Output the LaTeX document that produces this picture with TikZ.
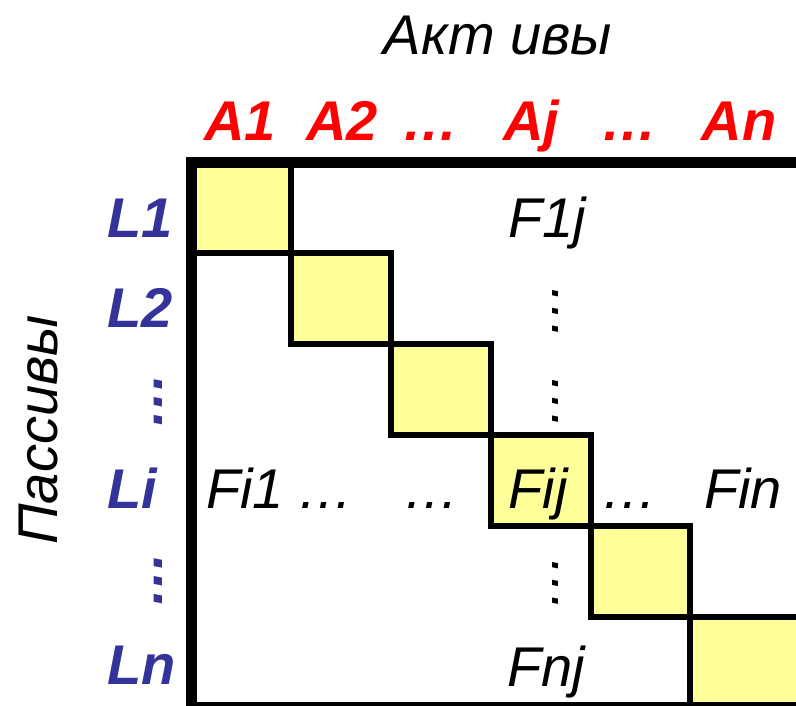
\documentclass[tikz,border=0pt]{standalone}
\usepackage{fontspec}
\setmainfont{Liberation Sans}
\definecolor{cellyellow}{HTML}{FFFF99}
\definecolor{actred}{HTML}{FF0000}
\definecolor{passblue}{HTML}{333399}
\begin{document}
\begin{tikzpicture}[x=1pt,y=-1pt,
  txt/.style={font=\fontsize{56}{60}\selectfont\itshape, inner sep=0pt, anchor=base},
  act/.style={txt, font=\fontsize{56}{60}\selectfont\bfseries\itshape, text=actred},
  pas/.style={txt, font=\fontsize{56}{60}\selectfont\bfseries\itshape, text=passblue},
  vdots/.style={rotate=90, anchor=center},
  cell/.style={fill=cellyellow, draw=black, line width=6pt},
  frame/.style={draw=black, line width=11pt}]
\useasboundingbox (0,0) rectangle (796,706);
\clip (0,0) rectangle (796,706);
% diagonal cells
\foreach \k in {0,...,4}{
  \draw[cell] ({191.5+99.75*\k},{162.5+90.8*\k}) rectangle ++(99.75,90.8);
}
\draw[cell] (690.25,616.5) rectangle (850,760);
% outer frame
\draw[frame] (191.5,162.5) rectangle (850,707.3);
% headings
\node[txt] (aktivy) at (498,55) {Акт ивы};
\node[txt, rotate=90] (passivy) at (57,430) {Пассивы};
% column labels
\node[act] (a1) at (240,141) {A1};
\node[act] (a2) at (342,141) {A2};
\node[act] (ad1) at (430,141) {…};
\node[act] (aj) at (531,141) {Aj};
\node[act] (ad2) at (629,141) {…};
\node[act] (an) at (739,141) {An};
% row labels
\node[pas, anchor=base west] (l1) at (107,237) {L1};
\node[pas, anchor=base west] (l2) at (107,327) {L2};
\node[pas, vdots] (ld1) at (158,400) {…};
\node[pas, anchor=base west] (li) at (107,508) {Li};
\node[pas, vdots] (ld2) at (158,579) {…};
\node[pas, anchor=base west] (ln) at (107,684) {Ln};
% entries
\node[txt] (f1j) at (547,237) {F1j};
\node[txt, vdots] (vd1) at (556,309) {…};
\node[txt, vdots] (vd2) at (556,399) {…};
\node[txt] (fi1) at (245,508) {Fi1};
\node[txt] (hd1) at (325,508) {…};
\node[txt] (hd2) at (431,508) {…};
\node[txt] (fij) at (538,508) {Fij};
\node[txt] (hd3) at (629,508) {…};
\node[txt] (fin) at (743,508) {Fin};
\node[txt, vdots] (vd3) at (556,581) {…};
\node[txt] (fnj) at (546,686) {Fnj};
\end{tikzpicture}
\end{document}
